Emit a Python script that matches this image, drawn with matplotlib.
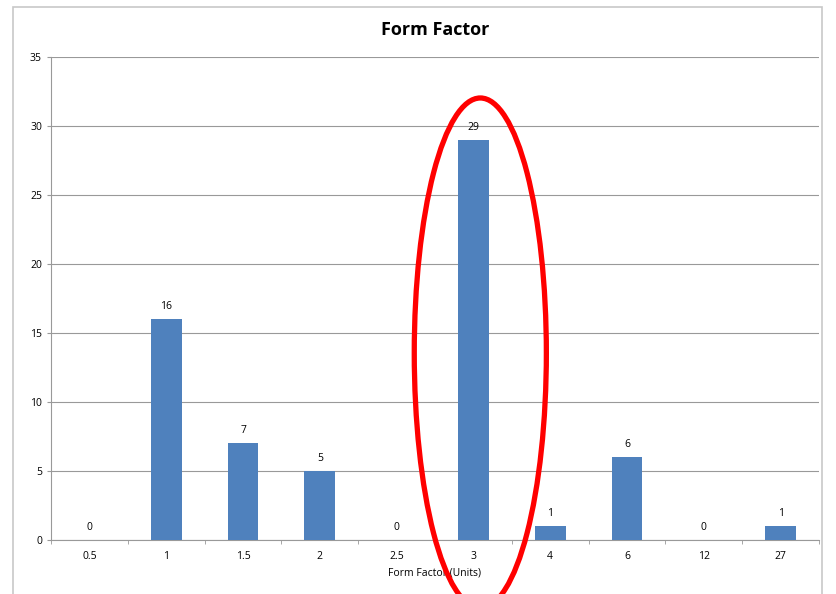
import matplotlib.pyplot as plt
from matplotlib.patches import Ellipse, Rectangle

# form factor bins and counts
categories = ['0.5', '1', '1.5', '2', '2.5', '3', '4', '6', '12', '27']
counts = [0, 16, 7, 5, 0, 29, 1, 6, 0, 1]

plt.rcParams['font.family'] = ['Open Sans', 'DejaVu Sans']

fig = plt.figure(figsize=(8.36, 5.94), dpi=100)
ax = fig.add_axes([51 / 836, 54 / 594, 768 / 836, 483 / 594])

# chart frame
fig.patches.append(Rectangle((13 / 836, -0.05), 809 / 836, 1.05 - 7 / 594,
                             transform=fig.transFigure, fill=False,
                             edgecolor='#c8c8c8', linewidth=1.2))

x = list(range(len(categories)))
bars = ax.bar(x, counts, width=0.4, color='#4f81bd', linewidth=0, zorder=3)
for xi, v in zip(x, counts):
    ax.annotate(str(v), (xi, v), xytext=(0, 5), textcoords='offset points',
                ha='center', va='bottom', fontsize=7.5)

ax.set_xlim(-0.5, len(categories) - 0.5)
ax.set_ylim(0, 35)
ax.set_yticks(range(0, 36, 5))
ax.yaxis.grid(True, color='#999999', linewidth=0.8)
ax.set_axisbelow(True)

ax.set_xticks(x)
ax.set_xticklabels(categories)
ax.set_xticks([i + 0.5 for i in range(-1, len(categories))], minor=True)
ax.tick_params(axis='x', which='major', length=0, labelsize=7.5, pad=8)
ax.tick_params(axis='x', which='minor', length=3, color='#999999')
ax.tick_params(axis='y', length=3, color='#999999', labelsize=7.5)

for s in ['top', 'right']:
    ax.spines[s].set_visible(False)
ax.spines['left'].set_color('#999999')
ax.spines['bottom'].set_color('#999999')

ax.set_title('Form Factor', fontsize=13, fontweight='bold', pad=16)
ax.set_xlabel('Form Factor (Units)', fontsize=7.5, labelpad=4)

# highlight around the 3-unit bin
ax.add_patch(Ellipse((5.09, 13.55), 1.72, 36.96, fill=False,
                     edgecolor='#ff0000', linewidth=3.8, clip_on=False, zorder=5))

fig.savefig('out.png', dpi=100)
